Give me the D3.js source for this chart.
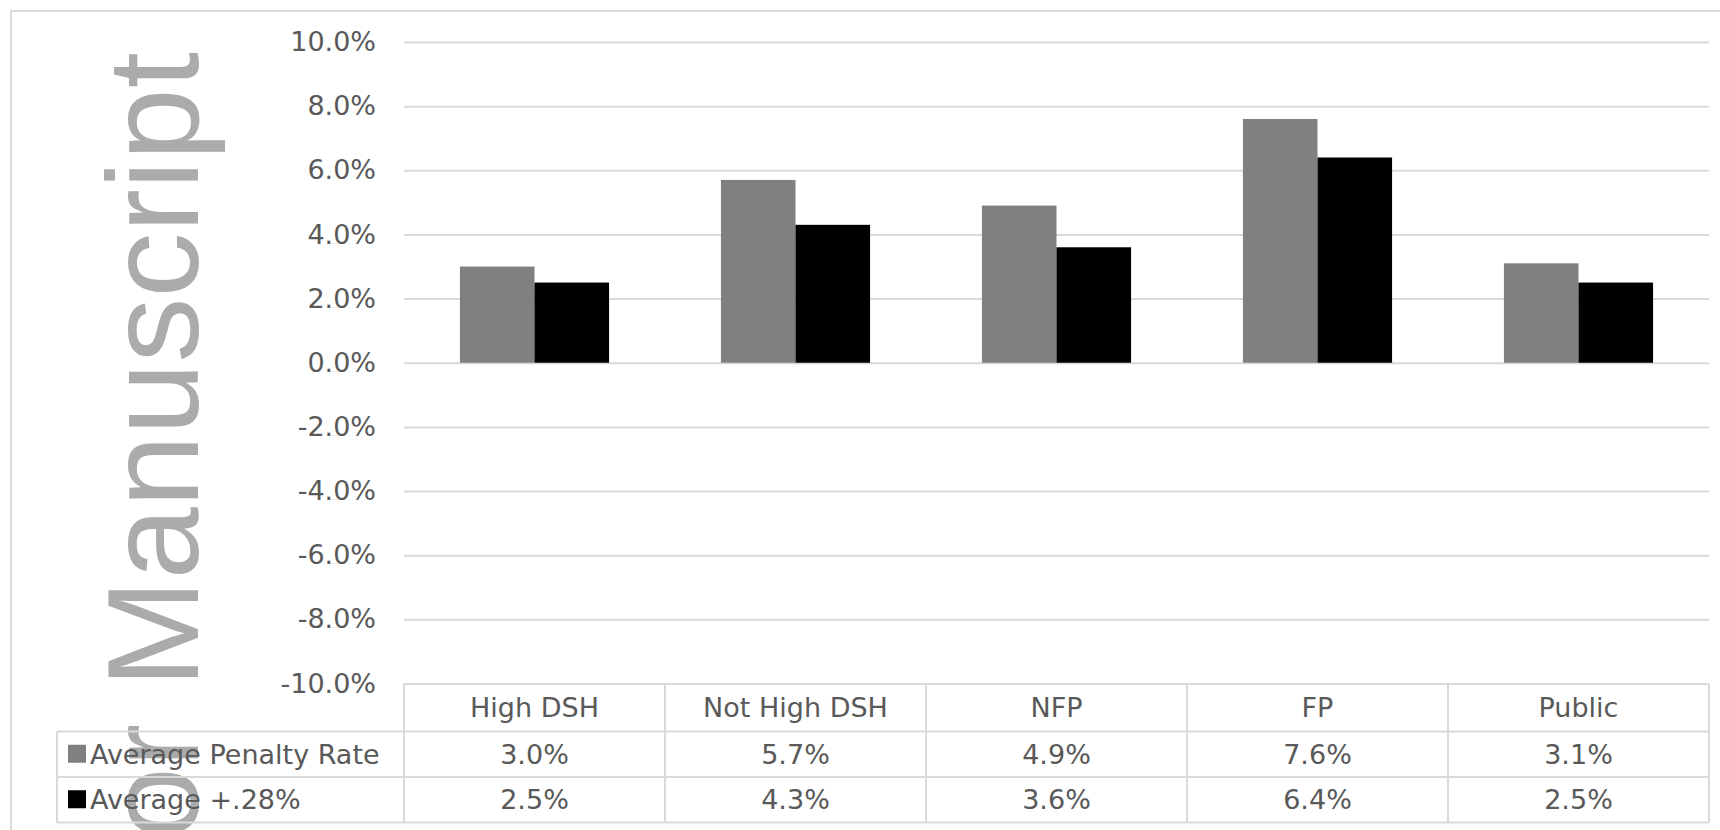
<!DOCTYPE html>
<html>
<head>
<meta charset="utf-8">
<script src="https://cdn.jsdelivr.net/npm/d3@7"></script>
<style>
  html, body { margin: 0; padding: 0; background: #ffffff; }
  svg { display: block; }
</style>
</head>
<body>
<script>
// Hospital groups and the two penalty-rate series shown as bars and in the data table
const categories = ["High DSH", "Not High DSH", "NFP", "FP", "Public"];
const seriesNames = ["Average Penalty Rate", "Average +.28%"];
const penaltyRate = [3.0, 5.7, 4.9, 7.6, 3.1];
const plus28 = [2.5, 4.3, 3.6, 6.4, 2.5];
const seriesColors = ["#808080", "#000000"];
const yTicks = [-10, -8, -6, -4, -2, 0, 2, 4, 6, 8, 10];

const W = 1720, H = 830;
const textColor = "#595959";
const lineColor = "#d9d9d9";
const font = "'DejaVu Sans', sans-serif";
const fontSize = 27;

const plot = { left: 404, right: 1709, top: 42, bottom: 683.5 };
const rowH = [684, 731.5, 777, 822.5]; // header row top, data row boundaries
const labelLeft = 57;

const svg = d3.select("body").append("svg")
  .attr("width", W).attr("height", H);

// outer chart-area frame (runs past the right and bottom edges)
svg.append("rect")
  .attr("x", 11).attr("y", 11)
  .attr("width", W + 20).attr("height", H + 20)
  .attr("fill", "none").attr("stroke", lineColor).attr("stroke-width", 2);

// background watermark text
svg.append("text")
  .attr("transform", "translate(198,52) rotate(-90)")
  .attr("text-anchor", "end")
  .attr("font-family", "'Liberation Sans', Arial, sans-serif")
  .attr("font-size", 130)
  .attr("fill", "#ababab")
  .text("or Manuscript");

const y = d3.scaleLinear().domain([-10, 10]).range([plot.bottom, plot.top]);
const x = d3.scaleBand().domain(categories).range([plot.left, plot.right]).padding(0);
const xs = d3.scaleBand().domain(seriesNames).range([0, x.bandwidth()])
  .paddingInner(0).paddingOuter(0.75);

// horizontal gridlines
const grid = svg.append("g")
  .attr("transform", `translate(${plot.left},0)`)
  .call(d3.axisLeft(y).tickValues(yTicks).tickSize(-(plot.right - plot.left)).tickFormat(""));
grid.select(".domain").remove();
grid.selectAll(".tick line").attr("stroke", lineColor).attr("stroke-width", 2);

// y-axis labels
const yAxis = svg.append("g")
  .attr("transform", `translate(${plot.left},0)`)
  .call(d3.axisLeft(y).tickValues(yTicks).tickSize(0).tickPadding(28)
    .tickFormat(d => d.toFixed(1) + "%"));
yAxis.select(".domain").remove();
yAxis.selectAll("text")
  .attr("font-family", font).attr("font-size", fontSize).attr("fill", textColor);

// bars
const seriesData = [penaltyRate, plus28];
seriesNames.forEach((name, si) => {
  svg.append("g").selectAll("rect")
    .data(categories.map((c, i) => ({ c, v: seriesData[si][i] })))
    .join("rect")
    .attr("x", d => x(d.c) + xs(name))
    .attr("width", xs.bandwidth())
    .attr("y", d => y(Math.max(0, d.v)))
    .attr("height", d => Math.abs(y(d.v) - y(0)))
    .attr("fill", seriesColors[si]);
});

// data table beneath the plot
const table = svg.append("g");
const hline = (x1, x2, yy) => table.append("line")
  .attr("x1", x1).attr("x2", x2).attr("y1", yy).attr("y2", yy)
  .attr("stroke", lineColor).attr("stroke-width", 2);
const vline = (xx, y1, y2) => table.append("line")
  .attr("x1", xx).attr("x2", xx).attr("y1", y1).attr("y2", y2)
  .attr("stroke", lineColor).attr("stroke-width", 2);

hline(plot.left, plot.right, rowH[0]);
hline(labelLeft, plot.right, rowH[1]);
hline(labelLeft, plot.right, rowH[2]);
hline(labelLeft, plot.right, rowH[3]);
vline(labelLeft, rowH[1], rowH[3]);
categories.forEach(c => vline(x(c), rowH[0], rowH[3]));
vline(plot.right, rowH[0], rowH[3]);

const cellText = (tx, ty, txt, anchor) => table.append("text")
  .attr("x", tx).attr("y", ty).attr("dy", "0.36em")
  .attr("text-anchor", anchor)
  .attr("font-family", font).attr("font-size", fontSize).attr("fill", textColor)
  .text(txt);

categories.forEach(c => {
  cellText(x(c) + x.bandwidth() / 2, (rowH[0] + rowH[1]) / 2, c, "middle");
});

seriesNames.forEach((name, si) => {
  const top = rowH[si + 1], bot = rowH[si + 2];
  const mid = (top + bot) / 2;
  table.append("rect")
    .attr("x", 68).attr("y", mid - 9.5).attr("width", 18).attr("height", 18)
    .attr("fill", seriesColors[si]);
  cellText(90, mid, name, "start");
  categories.forEach((c, i) => {
    cellText(x(c) + x.bandwidth() / 2, mid, seriesData[si][i].toFixed(1) + "%", "middle");
  });
});
</script>
</body>
</html>
